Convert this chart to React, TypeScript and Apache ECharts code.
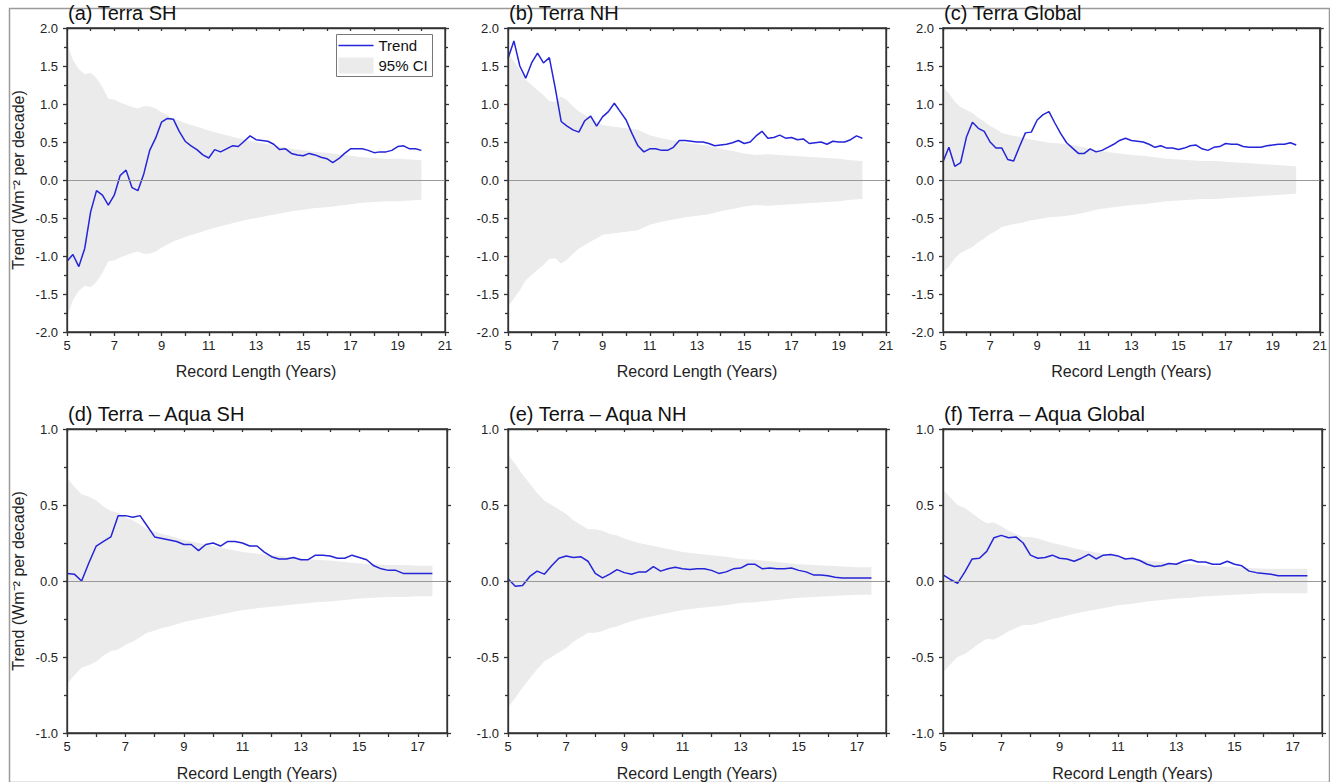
import React, { useEffect, useRef } from "react";
import * as echarts from "echarts";

// ---------- Data ----------
const xTop = [5,5.25,5.5,5.75,6,6.25,6.5,6.75,7,7.25,7.5,7.75,8,8.25,8.5,8.75,9,9.25,9.5,9.75,10,10.25,10.5,10.75,11,11.25,11.5,11.75,12,12.25,12.5,12.75,13,13.25,13.5,13.75,14,14.25,14.5,14.75,15,15.25,15.5,15.75,16,16.25,16.5,16.75,17,17.25,17.5,17.75,18,18.25,18.5,18.75,19,19.25,19.5,19.75,20];
const xBottom = [5,5.25,5.5,5.75,6,6.25,6.5,6.75,7,7.25,7.5,7.75,8,8.25,8.5,8.75,9,9.25,9.5,9.75,10,10.25,10.5,10.75,11,11.25,11.5,11.75,12,12.25,12.5,12.75,13,13.25,13.5,13.75,14,14.25,14.5,14.75,15,15.25,15.5,15.75,16,16.25,16.5,16.75,17,17.25,17.5];
const ciXTop = [5,5.25,5.5,5.75,6,6.25,6.5,6.75,7,7.25,7.5,7.75,8,8.25,8.5,8.75,9,9.5,10,10.5,11,11.5,12,12.5,13,13.5,14,14.5,15,15.5,16,16.5,17,17.5,18,18.5,19,19.5,20];
const ciXBottom = [5,5.25,5.5,5.75,6,6.25,6.5,6.75,7,7.25,7.5,7.75,8,8.25,8.5,8.75,9,9.5,10,10.5,11,11.5,12,12.5,13,13.5,14,14.5,15,15.5,16,16.5,17,17.5];

const trendA = [-1.07,-0.98,-1.14,-0.90,-0.42,-0.14,-0.20,-0.33,-0.20,0.06,0.13,-0.10,-0.14,0.08,0.39,0.55,0.76,0.81,0.80,0.64,0.51,0.45,0.40,0.33,0.29,0.40,0.37,0.41,0.45,0.44,0.51,0.58,0.53,0.52,0.51,0.47,0.40,0.41,0.35,0.33,0.32,0.35,0.33,0.30,0.28,0.23,0.28,0.35,0.41,0.41,0.41,0.39,0.36,0.37,0.37,0.39,0.44,0.45,0.41,0.41,0.39];
const trendB = [1.60,1.83,1.50,1.34,1.54,1.67,1.54,1.61,1.21,0.77,0.71,0.66,0.63,0.78,0.84,0.71,0.83,0.90,1.01,0.90,0.79,0.61,0.45,0.37,0.41,0.41,0.39,0.39,0.43,0.52,0.52,0.51,0.50,0.50,0.48,0.45,0.46,0.47,0.49,0.52,0.48,0.50,0.58,0.64,0.55,0.56,0.59,0.55,0.56,0.53,0.54,0.48,0.49,0.50,0.47,0.51,0.50,0.50,0.53,0.58,0.55];
const trendC = [0.24,0.43,0.18,0.23,0.57,0.76,0.68,0.64,0.50,0.42,0.42,0.27,0.25,0.44,0.62,0.63,0.79,0.86,0.90,0.75,0.61,0.49,0.42,0.35,0.35,0.41,0.37,0.39,0.43,0.47,0.52,0.55,0.52,0.51,0.50,0.47,0.43,0.45,0.42,0.42,0.40,0.42,0.45,0.46,0.41,0.39,0.43,0.44,0.48,0.47,0.47,0.44,0.43,0.43,0.43,0.45,0.46,0.47,0.47,0.49,0.46];
const trendD = [0.05,0.045,0.0,0.12,0.23,0.26,0.29,0.43,0.43,0.42,0.43,0.36,0.29,0.28,0.27,0.26,0.24,0.24,0.20,0.24,0.25,0.23,0.26,0.26,0.25,0.23,0.23,0.19,0.16,0.145,0.145,0.155,0.14,0.14,0.17,0.17,0.165,0.15,0.15,0.17,0.155,0.14,0.10,0.08,0.07,0.07,0.05,0.05,0.05,0.05,0.05];
const trendE = [0.015,-0.035,-0.03,0.03,0.065,0.045,0.10,0.15,0.165,0.155,0.16,0.13,0.05,0.02,0.045,0.075,0.055,0.045,0.06,0.06,0.095,0.065,0.08,0.09,0.08,0.075,0.08,0.08,0.07,0.05,0.06,0.08,0.085,0.11,0.11,0.08,0.085,0.08,0.08,0.085,0.07,0.06,0.04,0.04,0.035,0.025,0.02,0.02,0.02,0.02,0.02];
const trendF = [0.04,0.01,-0.015,0.06,0.145,0.15,0.195,0.285,0.30,0.285,0.29,0.25,0.17,0.15,0.155,0.17,0.15,0.145,0.13,0.15,0.175,0.145,0.17,0.175,0.165,0.145,0.15,0.135,0.11,0.095,0.10,0.115,0.11,0.13,0.14,0.125,0.125,0.11,0.11,0.13,0.11,0.10,0.065,0.055,0.05,0.045,0.035,0.035,0.035,0.035,0.035];

const ciA = [1.80,1.58,1.46,1.39,1.41,1.34,1.22,1.07,1.06,1.02,0.99,0.96,0.94,0.97,0.97,0.94,0.89,0.81,0.75,0.70,0.65,0.61,0.57,0.53,0.50,0.47,0.44,0.41,0.39,0.37,0.36,0.34,0.32,0.30,0.29,0.28,0.28,0.27,0.26];
const ciB = [1.67,1.56,1.45,1.32,1.25,1.18,1.12,1.04,1.03,1.10,1.05,0.97,0.90,0.86,0.81,0.77,0.72,0.70,0.68,0.66,0.59,0.55,0.52,0.49,0.47,0.45,0.41,0.38,0.35,0.33,0.34,0.33,0.32,0.31,0.30,0.29,0.28,0.26,0.25];
const ciC = [1.22,1.14,1.03,0.96,0.92,0.88,0.82,0.77,0.71,0.67,0.62,0.60,0.58,0.57,0.55,0.53,0.52,0.49,0.48,0.46,0.43,0.39,0.37,0.35,0.33,0.32,0.30,0.28,0.27,0.26,0.25,0.25,0.24,0.23,0.22,0.21,0.20,0.19,0.18];
const ciD = [0.68,0.62,0.57,0.555,0.53,0.49,0.46,0.45,0.42,0.40,0.37,0.34,0.325,0.31,0.30,0.285,0.27,0.25,0.23,0.21,0.19,0.18,0.17,0.16,0.15,0.14,0.135,0.125,0.115,0.11,0.105,0.105,0.10,0.10];
const ciE = [0.83,0.77,0.70,0.64,0.58,0.53,0.50,0.47,0.44,0.40,0.37,0.34,0.34,0.33,0.31,0.30,0.28,0.25,0.23,0.21,0.19,0.18,0.17,0.16,0.145,0.14,0.13,0.12,0.11,0.105,0.10,0.095,0.09,0.09];
const ciF = [0.60,0.55,0.50,0.48,0.445,0.41,0.38,0.385,0.36,0.33,0.31,0.29,0.29,0.28,0.265,0.25,0.24,0.215,0.195,0.18,0.16,0.15,0.135,0.125,0.115,0.11,0.10,0.095,0.09,0.085,0.08,0.08,0.08,0.08];

const titles = ["(a) Terra SH", "(b) Terra NH", "(c) Terra Global", "(d) Terra \u2013 Aqua SH", "(e) Terra \u2013 Aqua NH", "(f) Terra \u2013 Aqua Global"];
const yNameText = "Trend (Wm\u207B\u00B2 per decade)";
const xNameText = "Record Length (Years)";
const legendLabels = ["Trend", "95% CI"];

const FONT = "'Liberation Sans', Arial, Helvetica, sans-serif";
const BLUE = "#2424d8";
const BAND = "#ebebeb";
const AXIS = "#333333";

const panels = [
  { title: titles[0], x: xTop, y: trendA, cx: ciXTop, ci: ciA, xMax: 21, yMin: -2, yMax: 2, left: 67, top: 28, width: 378, yName: true, nameGap: 31 },
  { title: titles[1], x: xTop, y: trendB, cx: ciXTop, ci: ciB, xMax: 21, yMin: -2, yMax: 2, left: 508, top: 28, width: 378, yName: false, nameGap: 31 },
  { title: titles[2], x: xTop, y: trendC, cx: ciXTop, ci: ciC, xMax: 21, yMin: -2, yMax: 2, left: 943, top: 28, width: 379, yName: false, nameGap: 31 },
  { title: titles[3], x: xBottom, y: trendD, cx: ciXBottom, ci: ciD, xMax: 18, yMin: -1, yMax: 1, left: 67, top: 429, width: 380, yName: true, nameGap: 32 },
  { title: titles[4], x: xBottom, y: trendE, cx: ciXBottom, ci: ciE, xMax: 18, yMin: -1, yMax: 1, left: 508, top: 429, width: 378, yName: false, nameGap: 32 },
  { title: titles[5], x: xBottom, y: trendF, cx: ciXBottom, ci: ciF, xMax: 18, yMin: -1, yMax: 1, left: 943, top: 429, width: 379, yName: false, nameGap: 32 },
];
const PANEL_H = 304;

function pairs(xs: number[], ys: number[]) {
  return xs.map((x, i) => [x, ys[i]]);
}

export default function App() {
  const ref = useRef<HTMLDivElement>(null);
  useEffect(() => {
    if (!ref.current) return;
    const chart = echarts.init(ref.current, undefined, { renderer: "svg" });

    const grid: any[] = [];
    const xAxis: any[] = [];
    const yAxis: any[] = [];
    const series: any[] = [];
    const graphic: any[] = [];

    panels.forEach((p, i) => {
      grid.push({
        left: p.left, top: p.top, width: p.width, height: PANEL_H, containLabel: false,
        show: true, borderColor: AXIS, borderWidth: 1.3, backgroundColor: "transparent", z: 5,
      });
      const mk = () => ({ color: AXIS, width: 1.3 });
      xAxis.push({
        type: "value", gridIndex: i, min: 5, max: p.xMax, interval: 1, position: "bottom", z: 6,
        axisLine: { show: true, onZero: false, lineStyle: mk() },
        axisTick: { show: true, length: 4, lineStyle: mk() },
        axisLabel: {
          show: true, color: "#222", fontSize: 13, fontFamily: FONT, margin: 7,
          formatter: (v: number) => (Math.round(v) % 2 === 1 ? String(Math.round(v)) : ""),
        },
        splitLine: { show: false },
        name: xNameText, nameLocation: "middle", nameGap: p.nameGap,
        nameTextStyle: { color: "#222", fontSize: 16, fontFamily: FONT },
      });
      xAxis.push({
        type: "value", gridIndex: i, min: 5, max: p.xMax, interval: 1, position: "top", z: 6,
        axisLine: { show: true, onZero: false, lineStyle: mk() },
        axisTick: { show: true, inside: true, length: 3, lineStyle: mk() },
        axisLabel: { show: false },
        splitLine: { show: false },
      });
      yAxis.push({
        type: "value", gridIndex: i, min: p.yMin, max: p.yMax, interval: 0.5, position: "left", z: 6,
        axisLine: { show: true, onZero: false, lineStyle: mk() },
        axisTick: { show: true, length: 4, lineStyle: mk() },
        minorTick: { show: true, splitNumber: 2, length: 3, lineStyle: mk() },
        axisLabel: { show: true, color: "#222", fontSize: 13, fontFamily: FONT, margin: 9, formatter: (v: number) => v.toFixed(1) },
        splitLine: { show: false },
        minorSplitLine: { show: false },
        name: p.yName ? yNameText : "", nameLocation: "middle", nameGap: 41,
        nameTextStyle: { color: "#222", fontSize: 16, fontFamily: FONT },
      });
      yAxis.push({
        type: "value", gridIndex: i, min: p.yMin, max: p.yMax, interval: 0.5, position: "right", z: 6,
        axisLine: { show: true, onZero: false, lineStyle: mk() },
        axisTick: { show: true, length: 4, lineStyle: mk() },
        minorTick: { show: true, splitNumber: 2, length: 3, lineStyle: mk() },
        axisLabel: { show: false },
        splitLine: { show: false },
        minorSplitLine: { show: false },
      });

      const xi = i * 2;
      const yi = i * 2;
      series.push({
        type: "line", xAxisIndex: xi, yAxisIndex: yi, data: pairs(p.cx, p.ci),
        symbol: "none", lineStyle: { width: 0, color: BAND }, itemStyle: { color: BAND },
        areaStyle: { color: BAND, opacity: 1, origin: "auto" }, z: 1, silent: true,
      });
      series.push({
        type: "line", xAxisIndex: xi, yAxisIndex: yi, data: pairs(p.cx, p.ci.map((v) => -v)),
        symbol: "none", lineStyle: { width: 0, color: BAND }, itemStyle: { color: BAND },
        areaStyle: { color: BAND, opacity: 1, origin: "auto" }, z: 2, silent: true,
        markLine: {
          silent: true, symbol: ["none", "none"], label: { show: false },
          lineStyle: { color: "#9a9a9a", width: 1, type: "solid" },
          data: [{ yAxis: 0 }],
        },
      });
      series.push({
        type: "line", xAxisIndex: xi, yAxisIndex: yi, data: pairs(p.x, p.y),
        symbol: "none", lineStyle: { width: 1.5, color: BLUE }, itemStyle: { color: BLUE }, z: 3,
      });

      graphic.push({
        type: "text", left: p.left + 1, top: p.top - 25,
        style: { text: p.title, fontSize: 20, fontFamily: FONT, fill: "#111" }, z: 10,
      });
    });

    // legend box in panel (a)
    graphic.push({
      type: "group", left: 336, top: 34, z: 20,
      children: [
        { type: "rect", shape: { x: 0, y: 0, width: 96, height: 42 }, style: { fill: "#fff", stroke: "#777", lineWidth: 1 } },
        { type: "line", shape: { x1: 2, y1: 11, x2: 37, y2: 11 }, style: { stroke: BLUE, lineWidth: 1.5 } },
        { type: "text", x: 42, y: 11, style: { text: legendLabels[0], fontSize: 15, fontFamily: FONT, fill: "#111", verticalAlign: "middle" } },
        { type: "rect", shape: { x: 2, y: 23, width: 35, height: 16 }, style: { fill: BAND } },
        { type: "text", x: 42, y: 31, style: { text: legendLabels[1], fontSize: 15, fontFamily: FONT, fill: "#111", verticalAlign: "middle" } },
      ],
    });
    // outer frame
    graphic.push({
      type: "rect", left: 7, top: 6, z: 0, silent: true,
      shape: { x: 0, y: 0, width: 1320, height: 774 },
      style: { fill: "none", stroke: "#9a9a9a", lineWidth: 1.5 },
    });

    chart.setOption({
      animation: false,
      backgroundColor: "#ffffff",
      textStyle: { fontFamily: FONT },
      grid, xAxis, yAxis, series, graphic,
    });
    return () => chart.dispose();
  }, []);

  return <div ref={ref} style={{ position: "fixed", left: 0, top: 0, width: 1330, height: 782 }} />;
}
